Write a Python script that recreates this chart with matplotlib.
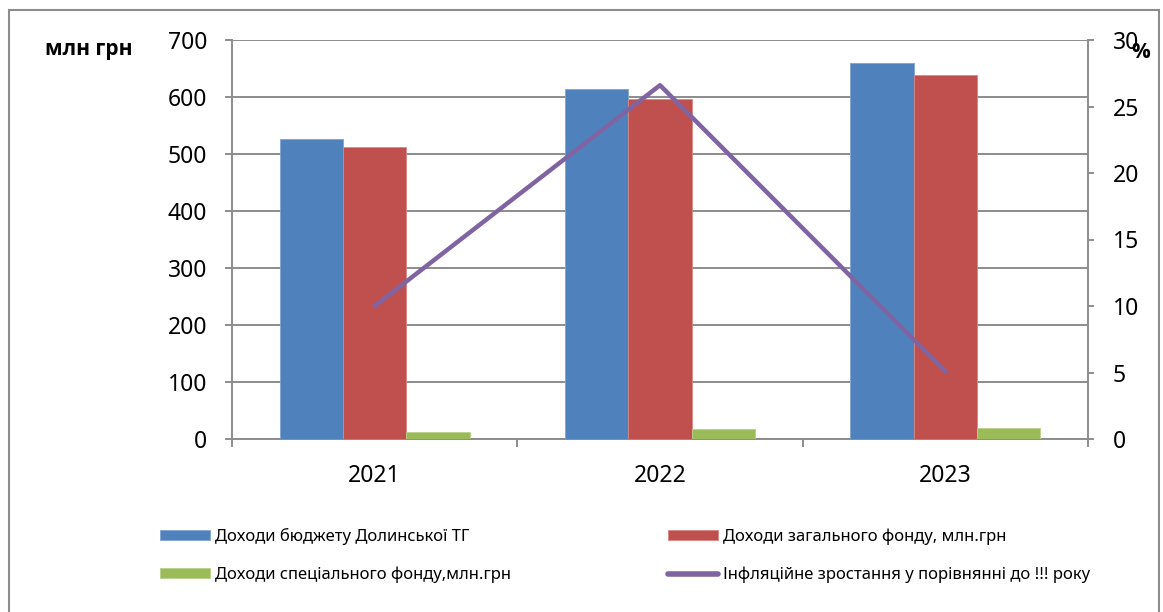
import matplotlib
matplotlib.use("Agg")
import matplotlib.pyplot as plt
import numpy as np
from matplotlib.patches import Rectangle
from matplotlib.ticker import FixedLocator, NullFormatter

plt.rcParams['font.family'] = ['Noto Sans', 'DejaVu Sans']

years = ['2021', '2022', '2023']
budget = [526, 614, 659]
general_fund = [512, 596, 638]
special_fund = [12, 17, 20]
inflation = [10.0, 26.6, 5.1]

labels = ['Доходи бюджету Долинської ТГ',
          'Доходи загального фонду, млн.грн',
          'Доходи спеціального фонду,млн.грн',
          'Інфляційне зростання у порівнянні до !!! року']

c_blue = '#4F81BD'
c_red = '#C0504D'
c_green = '#9BBB59'
c_purple = '#8064A2'
gray = '#8C8C8C'

fig = plt.figure(figsize=(11.63, 6.12), dpi=100)
ax = fig.add_axes([232/1163, 1-439/612, (1088-232)/1163, (439-40)/612])
ax2 = ax.twinx()

x = np.arange(len(years))
w = 0.222
b1 = ax.bar(x - w, budget, w, color=c_blue, edgecolor='#7FA3CF', linewidth=0.6, zorder=3)
b2 = ax.bar(x, general_fund, w, color=c_red, edgecolor='#D98683', linewidth=0.6, zorder=3)
b3 = ax.bar(x + w, special_fund, w, color=c_green, edgecolor='#B9D08A', linewidth=0.6, zorder=3)
ln, = ax2.plot(x, inflation, color=c_purple, lw=3.2, solid_capstyle='round', zorder=4)

ax.set_xlim(-0.5, 2.5)
ax.set_ylim(0, 700)
ax.set_yticks(np.arange(0, 701, 100))
ax2.set_ylim(0, 30)
ax2.set_yticks(np.arange(0, 31, 5))

ax.yaxis.grid(True, color=gray, lw=1.4, zorder=0)
ax.set_axisbelow(True)

# x ticks at category boundaries, labels at centers
ax.xaxis.set_major_locator(FixedLocator([-0.5, 0.5, 1.5, 2.5]))
ax.xaxis.set_major_formatter(NullFormatter())
ax.xaxis.set_minor_locator(FixedLocator(x))
ax.set_xticklabels(years, minor=True)
ax.tick_params(axis='x', which='major', length=6, width=1.4, color=gray, direction='out')
ax.tick_params(axis='x', which='minor', length=0, pad=18, labelsize=16.5)
ax.tick_params(axis='y', length=5, width=1.4, color=gray, pad=13, labelsize=16.5)
ax2.tick_params(axis='y', length=4, width=1.4, color=gray, pad=14, labelsize=16.5)

for a in (ax, ax2):
    for s in a.spines.values():
        s.set_visible(False)
for a, side in ((ax, 'left'), (ax, 'bottom'), (ax2, 'right')):
    a.spines[side].set_visible(True)
    a.spines[side].set_color(gray)
    a.spines[side].set_linewidth(1.4)

bold_fam = ['Open Sans', 'DejaVu Sans']
fig.text(45/1163, 1-50/612, 'млн грн', fontsize=15, fontweight='bold',
         family=bold_fam, va='center', ha='left')
fig.text(1131/1163, 1-53/612, '%', fontsize=15, fontweight='bold',
         family=bold_fam, va='center', ha='left')

# outer chart frame
fig.patches.append(Rectangle((9/1163, -0.02), (1159-9)/1163, 1.02 - 10/612,
                             transform=fig.transFigure, fill=False,
                             edgecolor=gray, lw=1.5))

handles = [b1, b3, b2, ln]
hl = [labels[0], labels[2], labels[1], labels[3]]
leg = fig.legend(handles, hl, loc='upper left', bbox_to_anchor=(160/1163, 1-528/612),
                 ncol=2, frameon=False, fontsize=12, handlelength=3.0,
                 handleheight=0.55, handletextpad=0.3, columnspacing=9.4,
                 labelspacing=1.3, borderaxespad=0, borderpad=0)
for lh in leg.get_lines():
    lh.set_linewidth(4)

fig.savefig('out.png', dpi=100)
